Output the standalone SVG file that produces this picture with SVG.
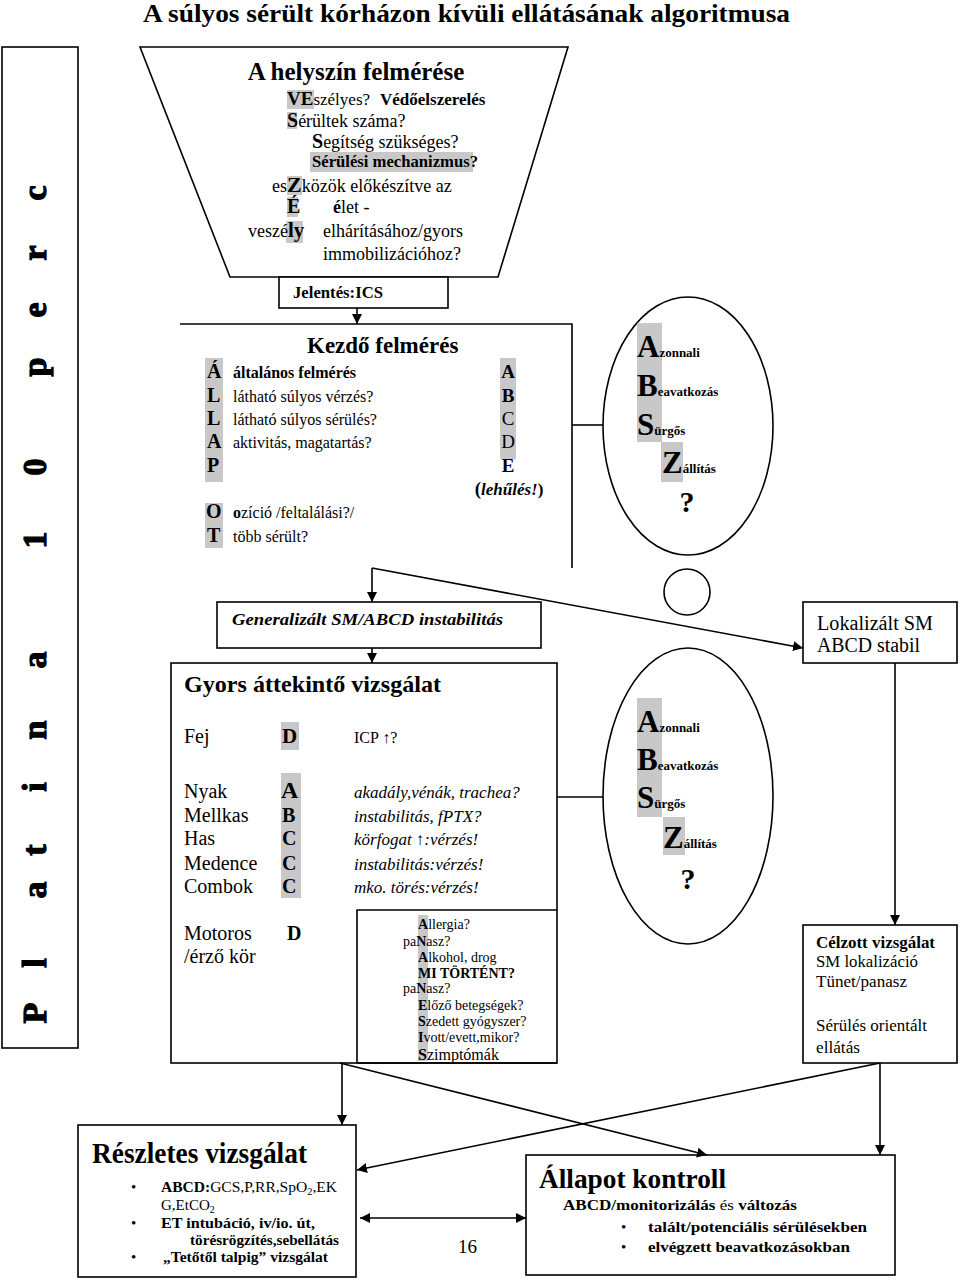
<svg xmlns="http://www.w3.org/2000/svg" width="960" height="1282" viewBox="0 0 960 1282">
<style>
text{font-family:"Liberation Serif","Times New Roman",serif;fill:#000}
.b{font-weight:bold}
.i{font-style:italic}
.hl{fill:#c8c8c8}
.bx{fill:#fff;stroke:#000;stroke-width:1.6}
.ln{fill:none;stroke:#000;stroke-width:1.6}
.ar{fill:none;stroke:#000;stroke-width:1.6;marker-end:url(#ah)}
.vt{font-weight:bold;stroke:#000;stroke-width:1.2}
</style>
<defs>
<marker id="ah" markerUnits="userSpaceOnUse" markerWidth="10" markerHeight="10" refX="10" refY="5" orient="auto">
<path d="M0,0 L10,5 L0,10 z" fill="#000"/>
</marker>
<marker id="ahs" markerUnits="userSpaceOnUse" markerWidth="10" markerHeight="10" refX="0" refY="5" orient="auto">
<path d="M10,0 L0,5 L10,10 z" fill="#000"/>
</marker>
</defs>
<rect width="960" height="1282" fill="#fff"/>

<text id="title" class="b" x="143" y="22" font-size="25" textLength="647" lengthAdjust="spacingAndGlyphs">A súlyos sérült kórházon kívüli ellátásának algoritmusa</text>

<g id="timebar">
<rect class="bx" x="2" y="47" width="76" height="1001"/>
<g transform="rotate(-90)">
<text class="vt" y="46" font-size="34" text-anchor="middle"><tspan x="-1013">P</tspan><tspan x="-963">l</tspan><tspan x="-890">a</tspan><tspan x="-850">t</tspan><tspan x="-787">i</tspan><tspan x="-730">n</tspan><tspan x="-660">a</tspan><tspan x="-540">1</tspan><tspan x="-467">0</tspan><tspan x="-367">p</tspan><tspan x="-310">e</tspan><tspan x="-253">r</tspan><tspan x="-193">c</tspan></text>
</g>
</g>

<g id="helyszin">
<polygon class="bx" points="140,47 568,47 498,277 230,277"/>
<rect class="hl" x="287" y="90" width="27" height="19"/>
<rect class="hl" x="287" y="112" width="10" height="17"/>
<rect class="hl" x="310" y="152" width="163" height="20"/>
<rect class="hl" x="287" y="176" width="15" height="19"/>
<rect class="hl" x="287" y="197" width="11" height="20"/>
<rect class="hl" x="286" y="221" width="17" height="22"/>
<text class="b" x="356" y="80" font-size="25" text-anchor="middle">A helyszín felmérése</text>
<text x="287" y="105" font-size="17"><tspan class="b" font-size="19">VE</tspan>szélyes?</text>
<text class="b" x="380" y="105" font-size="17">Védőelszerelés</text>
<text x="287" y="127" font-size="18"><tspan class="b" font-size="20">S</tspan>érültek száma?</text>
<text x="312" y="148" font-size="18"><tspan class="b" font-size="20">S</tspan>egítség szükséges?</text>
<text class="b" x="312" y="167" font-size="17" textLength="166" lengthAdjust="spacingAndGlyphs">Sérülési mechanizmus?</text>
<text x="272" y="192" font-size="18">es<tspan class="b" font-size="22">Z</tspan>közök előkészítve az</text>
<text x="287" y="213" font-size="18"><tspan class="b" font-size="20">É</tspan><tspan x="333" class="b">é</tspan>let -</text>
<text x="248" y="237" font-size="18">veszé<tspan class="b" font-size="21">ly</tspan><tspan x="323">elhárításához/gyors</tspan></text>
<text x="323" y="260" font-size="18">immobilizációhoz?</text>
</g>

<g id="jelentes">
<rect class="bx" x="279" y="277" width="169" height="31"/>
<text class="b" x="293" y="298" font-size="16" textLength="90" lengthAdjust="spacingAndGlyphs">Jelentés:ICS</text>
</g>

<g id="kezdo">
<path class="ln" d="M180,324 H572 V568"/>
<rect class="hl" x="205" y="358" width="18" height="124"/>
<rect class="hl" x="205" y="503" width="18" height="45"/>
<rect class="hl" x="500" y="358" width="16" height="101"/>
<text class="b" x="307" y="353" font-size="23">Kezdő felmérés</text>
<text class="b" x="207" y="378" font-size="20">Á</text>
<text class="b" x="207" y="402" font-size="20">L</text>
<text class="b" x="207" y="425" font-size="20">L</text>
<text class="b" x="207" y="448" font-size="20">A</text>
<text class="b" x="207" y="472" font-size="20">P</text>
<text class="b" x="206" y="518" font-size="20">O</text>
<text class="b" x="207" y="542" font-size="20">T</text>
<text class="b" x="233" y="378" font-size="16">általános felmérés</text>
<text x="233" y="402" font-size="16">látható súlyos vérzés?</text>
<text x="233" y="425" font-size="16">látható súlyos sérülés?</text>
<text x="233" y="448" font-size="16">aktivitás, magatartás?</text>
<text x="233" y="518" font-size="16"><tspan class="b">o</tspan>zíció /feltalálási?/</text>
<text x="233" y="542" font-size="16">több sérült?</text>
<text class="b" x="508" y="378" font-size="19" text-anchor="middle">A</text>
<text class="b" x="508" y="402" font-size="19" text-anchor="middle">B</text>
<text x="508" y="425" font-size="19" text-anchor="middle">C</text>
<text x="508" y="448" font-size="19" text-anchor="middle">D</text>
<text class="b" x="508" y="472" font-size="19" text-anchor="middle">E</text>
<text class="b" x="509" y="495" font-size="17" text-anchor="middle"><tspan font-size="19">(</tspan><tspan class="i">lehűlés!</tspan>)</text>
</g>

<g id="absz1">
<ellipse class="bx" cx="688" cy="426" rx="85" ry="129"/>
<rect class="hl" x="637" y="323" width="25" height="119"/>
<rect class="hl" x="661" y="442" width="22" height="40"/>
<text class="b" x="637" y="357" font-size="31">A<tspan font-size="13">zonnali</tspan></text>
<text class="b" x="637" y="396" font-size="31">B<tspan font-size="13">eavatkozás</tspan></text>
<text class="b" x="637" y="435" font-size="31">S<tspan font-size="13">ürgős</tspan></text>
<text class="b" x="662" y="473" font-size="31">Z<tspan font-size="13">állítás</tspan></text>
<text class="b" x="687" y="512" font-size="30" text-anchor="middle">?</text>
</g>

<g id="kor">
<circle class="bx" cx="687" cy="592" r="23"/>
</g>

<g id="generalizalt">
<rect class="bx" x="217" y="602" width="324" height="46"/>
<text class="b i" x="232" y="625" font-size="17" textLength="271" lengthAdjust="spacingAndGlyphs">Generalizált SM/ABCD instabilitás</text>
</g>

<g id="lokalizalt">
<rect class="bx" x="803" y="602" width="154" height="61"/>
<text x="817" y="630" font-size="20" textLength="116" lengthAdjust="spacingAndGlyphs">Lokalizált SM</text>
<text x="817" y="652" font-size="20" textLength="103" lengthAdjust="spacingAndGlyphs">ABCD stabil</text>
</g>

<g id="gyors">
<rect class="bx" x="171" y="663" width="386" height="400"/>
<rect class="hl" x="281" y="722" width="18" height="28"/>
<rect class="hl" x="281" y="773" width="20" height="125"/>
<text class="b" x="184" y="692" font-size="23" textLength="257" lengthAdjust="spacingAndGlyphs">Gyors áttekintő vizsgálat</text>
<text x="184" y="743" font-size="20">Fej</text>
<text x="184" y="798" font-size="20">Nyak</text>
<text x="184" y="822" font-size="20">Mellkas</text>
<text x="184" y="845" font-size="20">Has</text>
<text x="184" y="870" font-size="20">Medence</text>
<text x="184" y="893" font-size="20">Combok</text>
<text x="184" y="940" font-size="20">Motoros</text>
<text x="184" y="963" font-size="20">/érző kör</text>
<text class="b" x="282" y="743" font-size="21">D</text>
<text class="b" x="281" y="798" font-size="24">A</text>
<text class="b" x="282" y="822" font-size="20">B</text>
<text class="b" x="282" y="845" font-size="20">C</text>
<text class="b" x="282" y="870" font-size="20">C</text>
<text class="b" x="282" y="893" font-size="20">C</text>
<text class="b" x="287" y="940" font-size="20">D</text>
<text x="354" y="743" font-size="16">ICP ↑?</text>
<text class="i" x="354" y="798" font-size="17">akadály,vénák, trachea?</text>
<text class="i" x="354" y="822" font-size="17">instabilitás, fPTX?</text>
<text class="i" x="354" y="845" font-size="17">körfogat ↑:vérzés!</text>
<text class="i" x="354" y="870" font-size="17">instabilitás:vérzés!</text>
<text class="i" x="354" y="893" font-size="17">mko. törés:vérzés!</text>
</g>

<g id="sampler">
<path class="ln" d="M357,1063 V910 H557"/>
<rect class="hl" x="418" y="915" width="10" height="146"/>
<text x="418" y="929" font-size="14"><tspan class="b">A</tspan>llergia?</text>
<text x="403" y="946" font-size="14">pa<tspan class="b">N</tspan>asz?</text>
<text x="418" y="962" font-size="14"><tspan class="b">A</tspan>lkohol, drog</text>
<text class="b" x="418" y="978" font-size="14">MI TÖRTÉNT?</text>
<text x="403" y="993" font-size="14">pa<tspan class="b">N</tspan>asz?</text>
<text x="418" y="1010" font-size="14"><tspan class="b">E</tspan>lőző betegségek?</text>
<text x="418" y="1026" font-size="14"><tspan class="b">S</tspan>zedett gyógyszer?</text>
<text x="418" y="1042" font-size="14"><tspan class="b">I</tspan>vott/evett,mikor?</text>
<text x="418" y="1060" font-size="16"><tspan class="b">S</tspan>zimptómák</text>
<path class="ln" d="M357,1063 H557"/>
</g>

<g id="absz2">
<ellipse class="bx" cx="688" cy="796" rx="85" ry="148"/>
<rect class="hl" x="637" y="698" width="25" height="119"/>
<rect class="hl" x="663" y="817" width="22" height="38"/>
<text class="b" x="637" y="732" font-size="31">A<tspan font-size="13">zonnali</tspan></text>
<text class="b" x="637" y="770" font-size="31">B<tspan font-size="13">eavatkozás</tspan></text>
<text class="b" x="637" y="808" font-size="31">S<tspan font-size="13">ürgős</tspan></text>
<text class="b" x="663" y="848" font-size="31">Z<tspan font-size="13">állítás</tspan></text>
<text class="b" x="688" y="889" font-size="30" text-anchor="middle">?</text>
</g>

<g id="celzott">
<rect class="bx" x="803" y="925" width="154" height="138"/>
<text class="b" x="816" y="948" font-size="16" textLength="119" lengthAdjust="spacingAndGlyphs">Célzott vizsgálat</text>
<text x="816" y="967" font-size="17" textLength="102" lengthAdjust="spacingAndGlyphs">SM lokalizáció</text>
<text x="816" y="987" font-size="17" textLength="91" lengthAdjust="spacingAndGlyphs">Tünet/panasz</text>
<text x="816" y="1031" font-size="17" textLength="111" lengthAdjust="spacingAndGlyphs">Sérülés orientált</text>
<text x="816" y="1053" font-size="17" textLength="44" lengthAdjust="spacingAndGlyphs">ellátás</text>
</g>

<g id="reszletes">
<rect class="bx" x="78" y="1125" width="278" height="152"/>
<text class="b" x="92" y="1163" font-size="30" textLength="215" lengthAdjust="spacingAndGlyphs">Részletes vizsgálat</text>
<text x="131" y="1192" font-size="15">•</text>
<text x="131" y="1228" font-size="15">•</text>
<text x="131" y="1262" font-size="15">•</text>
<text x="161" y="1192" font-size="15" textLength="176" lengthAdjust="spacingAndGlyphs"><tspan class="b">ABCD:</tspan>GCS,P,RR,SpO<tspan font-size="10" dy="3">2</tspan><tspan dy="-3">,EK</tspan></text>
<text x="161" y="1210" font-size="15">G,EtCO<tspan font-size="10" dy="3">2</tspan></text>
<text class="b" x="161" y="1228" font-size="15" textLength="154" lengthAdjust="spacingAndGlyphs">ET intubáció, iv/io. út,</text>
<text class="b" x="190" y="1245" font-size="15" textLength="149" lengthAdjust="spacingAndGlyphs">törésrögzítés,sebellátás</text>
<text class="b" x="163" y="1262" font-size="15" textLength="165" lengthAdjust="spacingAndGlyphs">„Tetőtől talpig” vizsgálat</text>
</g>

<g id="allapot">
<rect class="bx" x="526" y="1155" width="369" height="120"/>
<text class="b" x="539" y="1188" font-size="27" textLength="187" lengthAdjust="spacingAndGlyphs">Állapot kontroll</text>
<text x="563" y="1210" font-size="15" textLength="234" lengthAdjust="spacingAndGlyphs"><tspan class="b">ABCD/monitorizálás</tspan> és <tspan class="b">változás</tspan></text>
<text x="621" y="1232" font-size="15">•</text>
<text x="621" y="1252" font-size="15">•</text>
<text class="b" x="648" y="1232" font-size="15" textLength="219" lengthAdjust="spacingAndGlyphs">talált/potenciális sérülésekben</text>
<text class="b" x="648" y="1252" font-size="15" textLength="202" lengthAdjust="spacingAndGlyphs">elvégzett beavatkozásokban</text>
</g>

<text id="pagenum" x="458" y="1253" font-size="19">16</text>

<g id="connectors">
<line class="ar" x1="357" y1="308" x2="357" y2="324"/>
<line class="ln" x1="572" y1="425" x2="603" y2="425"/>
<line class="ar" x1="372" y1="568" x2="372" y2="602"/>
<line class="ar" x1="372" y1="568" x2="803" y2="648"/>
<line class="ar" x1="372" y1="648" x2="372" y2="663"/>
<line class="ln" x1="557" y1="797" x2="603" y2="797"/>
<line class="ar" x1="895" y1="663" x2="895" y2="925"/>
<line class="ar" x1="880" y1="1063" x2="880" y2="1155"/>
<line class="ar" x1="880" y1="1063" x2="357" y2="1170"/>
<line class="ar" x1="342" y1="1063" x2="342" y2="1125"/>
<line class="ar" x1="340" y1="1063" x2="707" y2="1155"/>
<line class="ar" x1="360" y1="1218" x2="526" y2="1218" marker-start="url(#ahs)"/>
</g>
</svg>
